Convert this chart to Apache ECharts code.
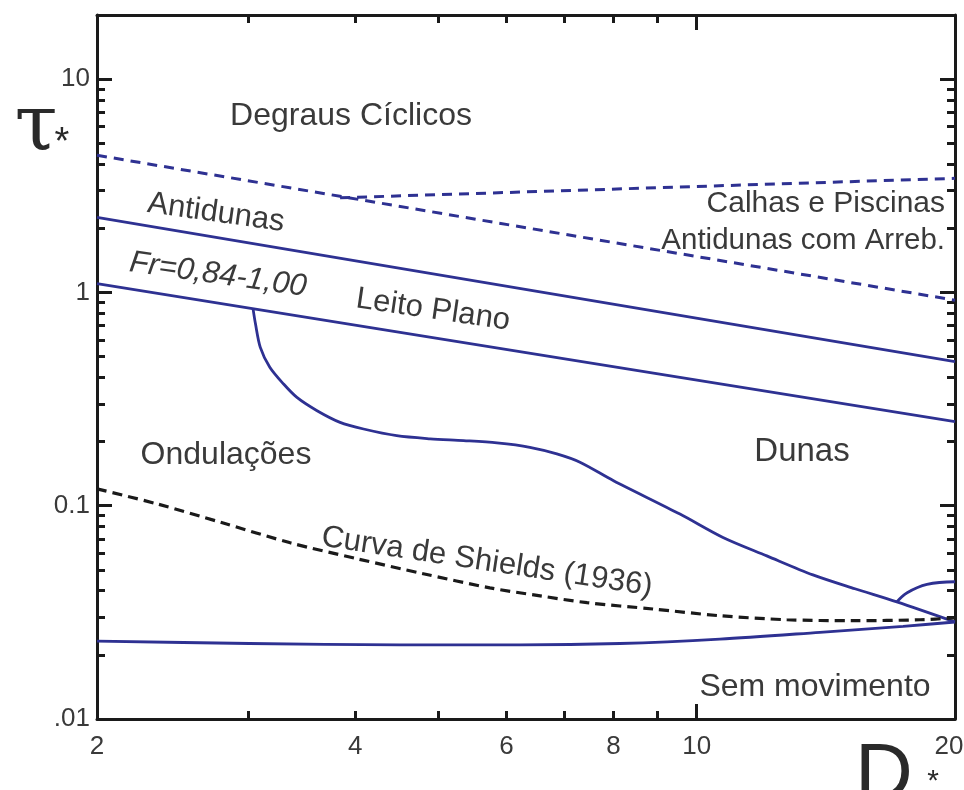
<!DOCTYPE html>
<html><head><meta charset="utf-8">
<script src="https://cdn.jsdelivr.net/npm/echarts@6/dist/echarts.min.js"></script>
<style>html,body{margin:0;padding:0;background:#fff}#c{width:964px;height:790px}</style>
</head><body><div id="c"></div>
<script>
// ---- axis ticks / labels ----
const xMinorTicks = [3, 4, 5, 6, 7, 8, 9];
const xMajorTicks = [10];
const xTickLabels = [2, 4, 6, 8, 10, 20];
const yMinorTicks = [0.02,0.03,0.04,0.05,0.06,0.07,0.08,0.09,0.2,0.3,0.4,0.5,0.6,0.7,0.8,0.9,2,3,4,5,6,7,8,9];
const yMajorTicks = [0.1, 1, 10];
const yTickLabels = [0.01, 0.1, 1, 10];
const yTickText = ['.01', '0.1', '1', '10'];

// ---- boundaries (D*, tau*) ----
const cyclicD = [2, 20];
const cyclicTau = [4.4, 0.92];
const chuteD = [3.84, 20];
const chuteTau = [2.78, 3.43];
const antiduneD = [2, 20];
const antiduneTau = [2.25, 0.474];
const froudeD = [2, 20];
const froudeTau = [1.10, 0.248];
const rippleDuneD = [3.04, 3.06, 3.10, 3.18, 3.30, 3.42, 3.61, 3.84, 4.09, 4.47, 4.89, 5.35, 5.85, 6.39, 6.87, 7.31, 8.00, 9.56, 10.73, 12.07, 13.66, 15.29, 17.11, 20];
const rippleDuneTau = [0.84, 0.713, 0.553, 0.446, 0.372, 0.322, 0.279, 0.246, 0.229, 0.213, 0.206, 0.202, 0.197, 0.188, 0.175, 0.160, 0.131, 0.0914, 0.0710, 0.0582, 0.0474, 0.0408, 0.0354, 0.0285];
const branchD = [17.11, 17.59, 18.55, 20];
const branchTau = [0.0354, 0.0391, 0.0428, 0.0440];
const shieldsD = [2, 2.35, 2.80, 3.36, 4.02, 4.80, 5.74, 6.57, 7.45, 8.89, 10.64, 12.74, 15.21, 18.21, 20];
const shieldsTau = [0.120, 0.102, 0.0832, 0.0670, 0.0564, 0.0480, 0.0412, 0.0378, 0.0351, 0.0328, 0.0305, 0.0292, 0.0289, 0.0292, 0.0298];
const thresholdD = [2, 3.01, 4.51, 6.22, 8.14, 10.64, 13.92, 17.40, 20];
const thresholdTau = [0.0232, 0.0226, 0.02225, 0.02225, 0.0226, 0.0237, 0.0255, 0.0272, 0.0285];

const BLUE = '#2e3192';
const TXT = '#3a3a3a';
const FONT = "'Liberation Sans', Arial, sans-serif";

function pairs(xs, ys) { return xs.map((x, i) => [x, ys[i]]); }

function xAx(pos, ticks, len, showLine, labels) {
  return {
    type: 'log', logBase: 10, min: 2, max: 20, position: pos,
    axisLine: { show: showLine, lineStyle: { color: '#1a1a1a', width: 3 } },
    axisTick: { show: true, inside: true, length: len, customValues: ticks, lineStyle: { color: '#1a1a1a', width: 3 } },
    axisLabel: labels ? {
      show: true, customValues: labels, margin: 15, color: TXT, fontSize: 26, fontFamily: FONT,
      formatter: v => { const s = String(Math.round(v)); return v === labels[labels.length - 1] ? '{r|' + s + '}' : s; },
      rich: { r: { padding: [0, 12, 0, 0], fontSize: 26, fontFamily: FONT, color: TXT } }
    } : { show: false },
    splitLine: { show: false }, minorTick: { show: false }, minorSplitLine: { show: false }
  };
}
function yAx(pos, ticks, len, showLine, labels) {
  return {
    type: 'log', logBase: 10, min: 0.01, max: 20, position: pos,
    axisLine: { show: showLine, lineStyle: { color: '#1a1a1a', width: 3 } },
    axisTick: { show: true, inside: true, length: len, customValues: ticks, lineStyle: { color: '#1a1a1a', width: 3 } },
    axisLabel: labels ? { show: true, customValues: labels, margin: 7, color: TXT, fontSize: 26, fontFamily: FONT,
      formatter: v => { let best = 0; labels.forEach((l, i) => { if (Math.abs(Math.log10(l) - Math.log10(v)) < Math.abs(Math.log10(labels[best]) - Math.log10(v))) best = i; }); return yTickText[best]; } } : { show: false },
    splitLine: { show: false }, minorTick: { show: false }, minorSplitLine: { show: false }
  };
}
function ser(name, xs, ys, color, width, type, smooth) {
  return {
    type: 'line', name, xAxisIndex: 0, yAxisIndex: 0, data: pairs(xs, ys),
    showSymbol: false, symbol: 'none', smooth: smooth || false,
    lineStyle: { color, width, type: type || 'solid', cap: 'butt' }, z: 3, silent: true
  };
}
function txt(text, x, y, opts) {
  opts = opts || {};
  return {
    type: 'text', x, y, rotation: opts.rot || 0, z: 10, silent: true,
    style: {
      text, fill: opts.color || TXT, fontSize: opts.size || 32, fontFamily: opts.family || FONT,
      fontStyle: opts.italic ? 'italic' : 'normal',
      align: opts.align || 'center', verticalAlign: 'middle',
      textAlign: opts.align || 'center', textVerticalAlign: 'middle'
    }
  };
}

const chart = echarts.init(document.getElementById('c'), null, { renderer: 'canvas' });
chart.setOption({
  animation: false,
  backgroundColor: '#fff',
  grid: { left: 97, top: 15, width: 858, height: 704, containLabel: false, outerBoundsMode: 'none' },
  xAxis: [
    xAx('bottom', xMinorTicks, 8, true, xTickLabels),
    xAx('bottom', xMajorTicks, 15, false, null),
    xAx('top', xMinorTicks, 8, true, null),
    xAx('top', xMajorTicks, 15, false, null)
  ],
  yAxis: [
    yAx('left', yMinorTicks, 8, true, yTickLabels),
    yAx('left', yMajorTicks, 15, false, null),
    yAx('right', yMinorTicks, 8, true, null),
    yAx('right', yMajorTicks, 15, false, null)
  ],
  series: [
    ser('Degraus', cyclicD, cyclicTau, BLUE, 3, [10, 7]),
    ser('Calhas', chuteD, chuteTau, BLUE, 3, [10, 7]),
    ser('Antidunas', antiduneD, antiduneTau, BLUE, 2.8),
    ser('Froude', froudeD, froudeTau, BLUE, 2.8),
    ser('Ondulações/Dunas', rippleDuneD, rippleDuneTau, BLUE, 2.8, 'solid', 0.3),
    ser('Ramo', branchD, branchTau, BLUE, 2.8, 'solid', 0.4),
    ser('Shields', shieldsD, shieldsTau, '#1a1a1a', 3.2, [10, 6], 0.3),
    ser('Sem movimento', thresholdD, thresholdTau, BLUE, 2.8, 'solid', 0.3)
  ],
  graphic: [
    txt('Degraus Cíclicos', 351, 116),
    txt('Antidunas', 216, 213, { rot: -0.14, size: 31 }),
    txt('Fr=0,84-1,00', 218, 275, { rot: -0.14, italic: true, size: 31 }),
    txt('Leito Plano', 433, 310, { rot: -0.145, size: 31 }),
    txt('Calhas e Piscinas', 945, 204, { align: 'right', size: 30 }),
    txt('Antidunas com Arreb.', 945, 241, { align: 'right', size: 29.5 }),
    txt('Ondulações', 226, 455),
    txt('Dunas', 802, 452, { size: 33 }),
    txt('Curva de Shields (1936)', 487, 562, { rot: -0.15, size: 31 }),
    txt('Sem movimento', 815, 687),
    txt('τ', 36, 130, { size: 78, family: "'DejaVu Serif', 'Liberation Serif', serif", color: '#2a2a2a' }),
    txt('*', 62, 144, { size: 38, color: '#2a2a2a' }),
    txt('D', 884, 777, { size: 80, color: '#2a2a2a' }),
    txt('*', 933, 782, { size: 30, color: '#2a2a2a' })
  ]
});
</script></body></html>
